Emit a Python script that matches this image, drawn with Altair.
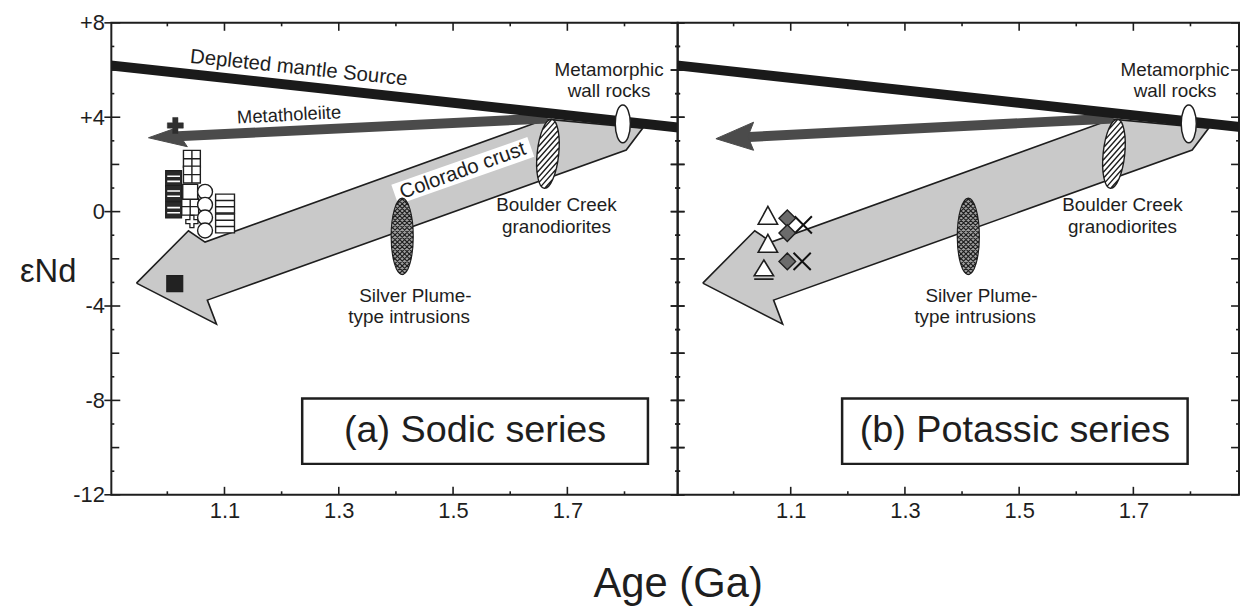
import math
import altair as alt
import pandas as pd

FONT = "Liberation Sans, Arial, Helvetica, sans-serif"
INK = "#1e1e1e"

# ---------------- axes ----------------
X_RANGE_A = [0.902, 1.893]
X_RANGE_B = [0.902, 1.885]
Y_RANGE = [-12, 8]
Y_TICK_LABELS = [8, 4, 0, -4, -8, -12]
Y_TICK_MID = [6, 2, -2, -6, -10]
Y_TICK_MINOR = [7, 5, 3, 1, -1, -3, -5, -7, -9, -11]
Y_TICK_EVEN = [8, 6, 4, 2, 0, -2, -4, -6, -8, -10, -12]
X_TICK_LABELS = [1.1, 1.3, 1.5, 1.7]
X_TICK_MINOR = [1.0, 1.2, 1.4, 1.6, 1.8]

# ---------------- reference curves ----------------
DM_AGE = [0.90, 1.90]
DM_END = [6.20, 3.55]

META_SHAFT_AGE = [1.000, 1.665]
META_A_SHAFT_END = [3.17, 3.95]
META_B_SHAFT_END = [3.13, 3.95]
META_A_HEAD_AGE = [0.967, 1.010, 1.022, 1.035, 0.967]
META_A_HEAD_END = [3.13, 3.50, 3.22, 2.75, 3.13]
META_B_HEAD_AGE = [0.969, 1.035, 1.025, 1.035, 0.969]
META_B_HEAD_END = [3.09, 3.79, 3.18, 2.60, 3.09]

CRUST_AGE = [0.946, 1.037, 1.066, 1.663, 1.832, 1.803, 1.070, 1.086, 0.946]
CRUST_END = [-3.03, -0.81, -1.29, 3.92, 3.54, 2.61, -3.75, -4.77, -3.03]

CRUST_LABEL_BAND_AGE = [1.398, 1.636]
CRUST_LABEL_BAND_END = [0.72, 2.74]

# ellipses: age, eNd
MWR_AGE = [1.797]
MWR_END = [3.72]
BCG_AGE = [1.666]
BCG_END = [2.45]
SPI_AGE = [1.411]
SPI_END = [-1.05]

# ---------------- samples: (a) sodic ----------------
SOD_CROSS_AGE = [1.014]
SOD_CROSS_END = [3.65]
SOD_GRID_AGE = [1.043, 1.043, 1.040]
SOD_GRID_END = [2.24, 1.57, 0.21]
SOD_DARKSTRIPE_AGE = [1.011, 1.011, 1.011]
SOD_DARKSTRIPE_END = [1.40, 0.77, 0.07]
SOD_OPENSQ_AGE = [1.040]
SOD_OPENSQ_END = [0.84]
SOD_PLUS_AGE = [1.043]
SOD_PLUS_END = [-0.42]
SOD_CIRCLE_AGE = [1.066, 1.066, 1.066, 1.066]
SOD_CIRCLE_END = [0.84, 0.29, -0.25, -0.80]
SOD_STRIPE_AGE = [1.101, 1.101]
SOD_STRIPE_END = [0.34, -0.50]
SOD_DARKSQ_AGE = [1.013]
SOD_DARKSQ_END = [-3.05]

# ---------------- samples: (b) potassic ----------------
POT_TRI_AGE = [1.060, 1.060]
POT_TRI_END = [-0.21, -1.40]
POT_TRIBAR_AGE = [1.053]
POT_TRIBAR_END = [-2.48]
POT_DIAMOND_AGE = [1.094, 1.094, 1.094]
POT_DIAMOND_END = [-0.28, -0.91, -2.11]
POT_X_AGE = [1.122, 1.120]
POT_X_END = [-0.56, -2.11]

# ---------------- labels ----------------
LABEL_TEXT = ["Metamorphic", "wall rocks", "Boulder Creek", "granodiorites",
              "Silver Plume-", "type intrusions"]
LABEL_AGE = [1.773, 1.773, 1.681, 1.681, 1.434, 1.423]
LABEL_END = [6.02, 5.12, 0.29, -0.65, -3.58, -4.48]

DM_LABEL = ["Depleted mantle Source"]
DM_LABEL_AGE = [1.230]
DM_LABEL_END = [6.08]
META_LABEL = ["Metatholeiite"]
META_LABEL_AGE = [1.213]
META_LABEL_END = [4.10]
CRUST_LABEL = ["Colorado crust"]
CRUST_LABEL_AGE = [1.517]
CRUST_LABEL_END = [1.73]

BOX_A_AGE = [1.236, 1.841]
BOX_B_AGE = [1.190, 1.795]
BOX_END = [-7.92, -10.69]
BOX_A_TEXT = "(a) Sodic series"
BOX_B_TEXT = "(b) Potassic series"


# ---------------- symbol shapes (unit square -1..1) ----------------
def ellipse_path(a):
    return f"M0,-1A{a},1 0 1,1 0,1A{a},1 0 1,1 0,-1Z"


def hatch_path(a, slope, step):
    segs = []
    A = 1.0 / a ** 2 + slope ** 2
    cmax = math.sqrt(1.0 + (a * slope) ** 2)
    c = -cmax + step / 2.0
    while c < cmax:
        B = 2.0 * slope * c
        C = c * c - 1.0
        disc = B * B - 4.0 * A * C
        if disc > 0:
            r = math.sqrt(disc)
            x1 = (-B - r) / (2 * A) * 0.97
            x2 = (-B + r) / (2 * A) * 0.97
            y1 = slope * x1 + c
            y2 = slope * x2 + c
            segs.append(f"M{x1:.3f},{y1:.3f}L{x2:.3f},{y2:.3f}")
        c += step
    return "".join(segs)


MWR_SHAPE = ellipse_path(0.40)
BCG_SHAPE = ellipse_path(0.31) + hatch_path(0.31, -1.4, 0.20)
SPI_SHAPE = ellipse_path(0.29) + hatch_path(0.29, -1.0, 0.125) + hatch_path(0.29, 1.0, 0.125)
SQ = "M-1,-1L1,-1L1,1L-1,1Z"
GRID = SQ + "M0,-1L0,1M-1,0L1,0"
STRIPED = SQ + "M-1,-0.33L1,-0.33M-1,0.33L1,0.33"
WHITE_LINES = "M-0.8,-0.3L0.8,-0.3M-0.8,0.35L0.8,0.35"
PLUS = ("M-0.33,-1L0.33,-1L0.33,-0.33L1,-0.33L1,0.33L0.33,0.33L0.33,1L-0.33,1"
        "L-0.33,0.33L-1,0.33L-1,-0.33L-0.33,-0.33Z")
XMARK = "M-1,-1L1,1M-1,1L1,-1"
TRI = "M0,-1L0.95,0.75L-0.95,0.75Z"
TRIBAR = "M0,-1L0.95,0.55L-0.95,0.55ZM-0.95,0.88L0.95,0.88"


def frame(xs, ys, **extra):
    d = {"x": list(xs), "y": list(ys)}
    for k, v in extra.items():
        d[k] = list(v)
    return pd.DataFrame(d)


def build_panel(xdom, width, which):
    if which == "a":
        xaxis = alt.Axis(values=X_TICK_LABELS, format=".1f", ticks=False, domain=False, grid=False,
                         labelFont=FONT, labelFontSize=22, labelColor=INK, labelPadding=6,
                         labelFlush=False, labelOverlap=False,
                         title="Age (Ga)", titleFont=FONT, titleFontSize=42, titleFontWeight="normal",
                         titleColor=INK, titleX=570, titleY=102, titleAlign="center",
                         titleBaseline="alphabetic")
        yaxis = alt.Axis(values=Y_TICK_LABELS, ticks=False, domain=False, grid=False,
                         labelExpr="datum.value > 0 ? '+' + datum.value : '' + datum.value",
                         labelFont=FONT, labelFontSize=22, labelColor=INK, labelPadding=7,
                         labelOverlap=False,
                         title="εNd", titleFont=FONT, titleFontSize=33, titleFontWeight="normal",
                         titleColor=INK, titleAngle=0, titleX=-64, titleY=250,
                         titleAlign="center", titleBaseline="middle")
    else:
        xaxis = alt.Axis(values=X_TICK_LABELS, format=".1f", ticks=False, domain=False, grid=False,
                         labelFont=FONT, labelFontSize=22, labelColor=INK, labelPadding=6,
                         labelFlush=False, labelOverlap=False, title=None)
        yaxis = None

    X = alt.X("x:Q", scale=alt.Scale(domain=xdom, nice=False, zero=False), axis=xaxis)
    Y = alt.Y("y:Q", scale=alt.Scale(domain=Y_RANGE, nice=False, zero=False), axis=yaxis)

    def ch(df):
        return alt.Chart(df)

    def sym(xs, ys, shape, size, fill, stroke=INK, sw=1.2, angle=0, filled=True):
        kw = dict(shape=shape, size=size, stroke=stroke, strokeWidth=sw, opacity=1, filled=filled)
        if filled:
            kw["fill"] = fill
        if angle:
            kw["angle"] = angle
        return ch(frame(xs, ys)).mark_point(**kw).encode(x=X, y=Y)

    def text(xs, ys, labels, size, angle=0):
        kw = dict(font=FONT, fontSize=size, color=INK, align="center", baseline="middle")
        if angle:
            kw["angle"] = angle
        return ch(frame(xs, ys, t=labels)).mark_text(**kw).encode(x=X, y=Y, text="t:N")

    def ticks(xs, ys, orient, size, off):
        kw = dict(orient=orient, size=size, thickness=1.6, color=INK, opacity=1)
        if off:
            if orient == "horizontal":
                kw["xOffset"] = off
            else:
                kw["yOffset"] = off
        return ch(frame(xs, ys)).mark_tick(**kw).encode(x=X, y=Y)

    layers = []
    # crust arrow
    layers.append(ch(frame(CRUST_AGE, CRUST_END, i=range(len(CRUST_AGE))))
                  .mark_line(fill="#c9c9c9", stroke=INK, strokeWidth=1.6, strokeJoin="miter")
                  .encode(x=X, y=Y, order="i:Q"))
    if which == "a":
        layers.append(ch(frame(CRUST_LABEL_BAND_AGE, CRUST_LABEL_BAND_END))
                      .mark_line(color="white", strokeWidth=21, strokeCap="butt")
                      .encode(x=X, y=Y))
    # metatholeiite arrow
    shaft_end = META_A_SHAFT_END if which == "a" else META_B_SHAFT_END
    head_age = META_A_HEAD_AGE if which == "a" else META_B_HEAD_AGE
    head_end = META_A_HEAD_END if which == "a" else META_B_HEAD_END
    layers.append(ch(frame(META_SHAFT_AGE, shaft_end))
                  .mark_line(color="#4b4b4b", strokeWidth=10, strokeCap="butt")
                  .encode(x=X, y=Y))
    layers.append(ch(frame(head_age, head_end, i=range(len(head_age))))
                  .mark_line(fill="#4b4b4b", stroke="#4b4b4b", strokeWidth=1, strokeJoin="miter")
                  .encode(x=X, y=Y, order="i:Q"))
    # depleted mantle
    layers.append(ch(frame(DM_AGE, DM_END))
                  .mark_line(color="#1a1a1a", strokeWidth=10, clip=True, strokeCap="butt")
                  .encode(x=X, y=Y))
    # ellipses
    layers.append(sym(SPI_AGE, SPI_END, SPI_SHAPE, 77 ** 2, "#9e9e9e", sw=1.1))
    layers.append(sym(BCG_AGE, BCG_END, BCG_SHAPE, 70 ** 2, "white", sw=1.4, angle=6))
    layers.append(sym(MWR_AGE, MWR_END, MWR_SHAPE, 38 ** 2, "white", sw=1.5))

    if which == "a":
        layers.append(sym(SOD_DARKSTRIPE_AGE, SOD_DARKSTRIPE_END, SQ, 256, "#2a2a2a"))
        layers.append(sym(SOD_DARKSTRIPE_AGE, SOD_DARKSTRIPE_END, WHITE_LINES, 256, None,
                          stroke="white", sw=1.6, filled=False))
        layers.append(sym(SOD_GRID_AGE, SOD_GRID_END, GRID, 289, "white", sw=1.4))
        layers.append(sym(SOD_OPENSQ_AGE, SOD_OPENSQ_END, SQ, 225, "white", sw=1.4))
        layers.append(sym(SOD_PLUS_AGE, SOD_PLUS_END, PLUS, 150, "white", sw=1.3))
        layers.append(sym(SOD_STRIPE_AGE, SOD_STRIPE_END, STRIPED, 361, "white", sw=1.4))
        layers.append(sym(SOD_CIRCLE_AGE, SOD_CIRCLE_END, "circle", 225, "white", sw=1.4))
        layers.append(sym(SOD_CROSS_AGE, SOD_CROSS_END, PLUS, 260, "#2e2e2e", stroke="#2e2e2e", sw=0.5))
        layers.append(sym(SOD_DARKSQ_AGE, SOD_DARKSQ_END, SQ, 256, "#222222"))
    else:
        layers.append(sym(POT_X_AGE, POT_X_END, XMARK, 300, None, stroke="#111111", sw=2, filled=False))
        layers.append(sym(POT_TRI_AGE, POT_TRI_END, TRI, 420, "white", sw=1.6))
        layers.append(sym(POT_TRIBAR_AGE, POT_TRIBAR_END, TRIBAR, 420, "white", sw=1.6))
        layers.append(sym(POT_DIAMOND_AGE, POT_DIAMOND_END, "diamond", 280, "#6b6b6b", sw=1.4))

    # labels
    layers.append(text(LABEL_AGE, LABEL_END, LABEL_TEXT, 19))
    if which == "a":
        layers.append(text(DM_LABEL_AGE, DM_LABEL_END, DM_LABEL, 20.5, angle=6))
        layers.append(text(META_LABEL_AGE, META_LABEL_END, META_LABEL, 18.5, angle=357))
        layers.append(text(CRUST_LABEL_AGE, CRUST_LABEL_END, CRUST_LABEL, 20.5, angle=340))

    # series box
    box_age = BOX_A_AGE if which == "a" else BOX_B_AGE
    box_text = BOX_A_TEXT if which == "a" else BOX_B_TEXT
    layers.append(ch(pd.DataFrame({"x": [box_age[0]], "x2": [box_age[1]],
                                   "y": [BOX_END[0]], "y2": [BOX_END[1]]}))
                  .mark_rect(fill="white", stroke=INK, strokeWidth=2.5)
                  .encode(x=X, x2="x2:Q", y=Y, y2="y2:Q"))
    layers.append(text([(box_age[0] + box_age[1]) / 2], [(BOX_END[0] + BOX_END[1]) / 2],
                       [box_text], 38))

    # axis ticks drawn as tick marks on the frame
    x0, x1 = xdom
    if which == "a":
        layers.append(ticks([x0] * len(Y_TICK_LABELS), Y_TICK_LABELS, "horizontal", 16, 1))
        layers.append(ticks([x0] * len(Y_TICK_MID), Y_TICK_MID, "horizontal", 8, 4))
        layers.append(ticks([x0] * len(Y_TICK_MINOR), Y_TICK_MINOR, "horizontal", 3, 1.5))
        layers.append(ticks([x1] * len(Y_TICK_EVEN), Y_TICK_EVEN, "horizontal", 14, 0))
        layers.append(ticks([x1] * len(Y_TICK_MINOR), Y_TICK_MINOR, "horizontal", 5, 0))
    else:
        layers.append(ticks([x0] * len(Y_TICK_EVEN), Y_TICK_EVEN, "horizontal", 14, 0))
        layers.append(ticks([x0] * len(Y_TICK_MINOR), Y_TICK_MINOR, "horizontal", 5, 0))
        layers.append(ticks([x1] * len(Y_TICK_EVEN), Y_TICK_EVEN, "horizontal", 8, -4))
        layers.append(ticks([x1] * len(Y_TICK_MINOR), Y_TICK_MINOR, "horizontal", 3, -1.5))
    ybot, ytop = Y_RANGE
    layers.append(ticks(X_TICK_LABELS, [ybot] * len(X_TICK_LABELS), "vertical", 8, -4))
    layers.append(ticks(X_TICK_MINOR, [ybot] * len(X_TICK_MINOR), "vertical", 3.5, -1.75))
    layers.append(ticks(X_TICK_LABELS, [ytop] * len(X_TICK_LABELS), "vertical", 8, 4))
    layers.append(ticks(X_TICK_MINOR, [ytop] * len(X_TICK_MINOR), "vertical", 3.5, 1.75))

    return alt.layer(*layers).properties(width=width, height=475)


panel_a = build_panel(X_RANGE_A, 570, "a")
panel_b = build_panel(X_RANGE_B, 565, "b")

chart = (
    alt.hconcat(panel_a, panel_b, spacing=0, bounds="flush")
    .properties(padding={"left": 10, "top": 1, "right": 0, "bottom": 0}, background="white")
    .configure_view(stroke=INK, strokeWidth=2)
)

chart.save("out.html", embed_options={"renderer": "svg", "actions": False})
